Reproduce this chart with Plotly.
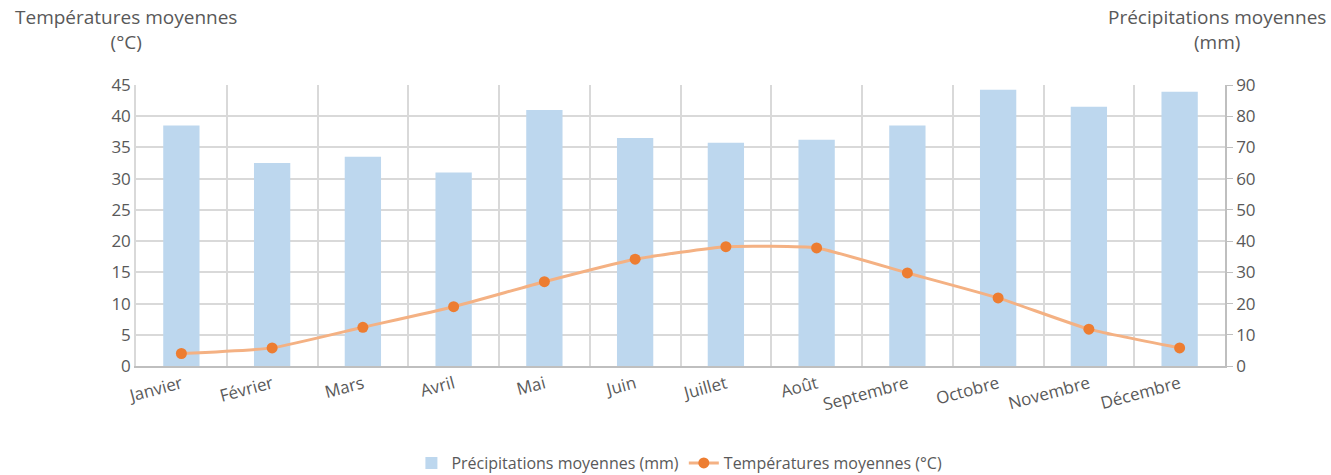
import plotly.graph_objects as go

mois = ["Janvier", "Février", "Mars", "Avril", "Mai", "Juin", "Juillet",
        "Août", "Septembre", "Octobre", "Novembre", "Décembre"]
precipitations = [77, 65, 67, 62, 82, 73, 71.5, 72.5, 77, 88.5, 83, 87.8]
temperatures = [2.0, 2.9, 6.2, 9.5, 13.5, 17.1, 19.1, 18.9, 14.9, 10.9, 5.9, 2.9]

temp_ticks = list(range(0, 50, 5))
prec_ticks = list(range(0, 100, 10))

FONT = "'Open Sans', Lato, sans-serif"
GRAY = "#595959"

fig = go.Figure()
fig.add_trace(go.Bar(
    x=mois, y=precipitations, name="Précipitations moyennes (mm)",
    marker=dict(color="#BDD7EE", line=dict(width=0)), yaxis="y",
))
fig.add_trace(go.Scatter(
    x=mois, y=temperatures, name="Températures moyennes (°C)",
    mode="lines+markers", yaxis="y2",
    line=dict(color="#F4B183", width=3, shape="spline", smoothing=0.45),
    marker=dict(color="#ED7D31", size=11),
))

fig.update_layout(
    width=1331, height=475,
    margin=dict(l=136, r=106, t=85, b=109, autoexpand=False),
    paper_bgcolor="white", plot_bgcolor="white",
    font=dict(family=FONT, size=16, color=GRAY),
    bargap=0.6,
    showlegend=True,
    legend=dict(orientation="h", x=0.499, xanchor="center", y=-0.285, yanchor="top",
                font=dict(size=16, color=GRAY), traceorder="normal"),
    xaxis=dict(
        type="category", tickangle=-15, tickson="boundaries", automargin=False,
        showgrid=True, gridcolor="#D9D9D9", gridwidth=1.5,
        showline=True, linecolor="#BFBFBF", linewidth=1.5,
        ticks="outside", ticklen=9, tickcolor="rgba(0,0,0,0)",
        tickfont=dict(size=17, color=GRAY),
        range=[-0.5, 11.5],
    ),
    yaxis=dict(
        side="right", range=[0, 90], tickvals=prec_ticks, automargin=False,
        showgrid=True, gridcolor="#D9D9D9", gridwidth=1.5,
        showline=True, linecolor="#BFBFBF", linewidth=1.5,
        ticks="outside", ticklen=6, tickcolor="#BFBFBF",
        tickfont=dict(size=17, color=GRAY), zeroline=False,
    ),
    yaxis2=dict(
        side="left", overlaying="y", range=[0, 45], tickvals=temp_ticks, automargin=False,
        showgrid=False, showline=True, linecolor="#D9D9D9", linewidth=1.5,
        ticks="", tickfont=dict(size=17, color=GRAY), zeroline=False,
    ),
    annotations=[
        dict(text="Températures moyennes<br>(°C)", xref="paper", yref="paper",
             x=-0.009, y=1.10, xanchor="center", yanchor="bottom", showarrow=False,
             font=dict(size=19, color=GRAY), align="center"),
        dict(text="Précipitations moyennes<br>(mm)", xref="paper", yref="paper",
             x=0.993, y=1.10, xanchor="center", yanchor="bottom", showarrow=False,
             font=dict(size=19, color=GRAY), align="center"),
    ],
)

fig.write_html("out.html", config={"displayModeBar": False},
               post_script="document.body.style.margin='0px';")
